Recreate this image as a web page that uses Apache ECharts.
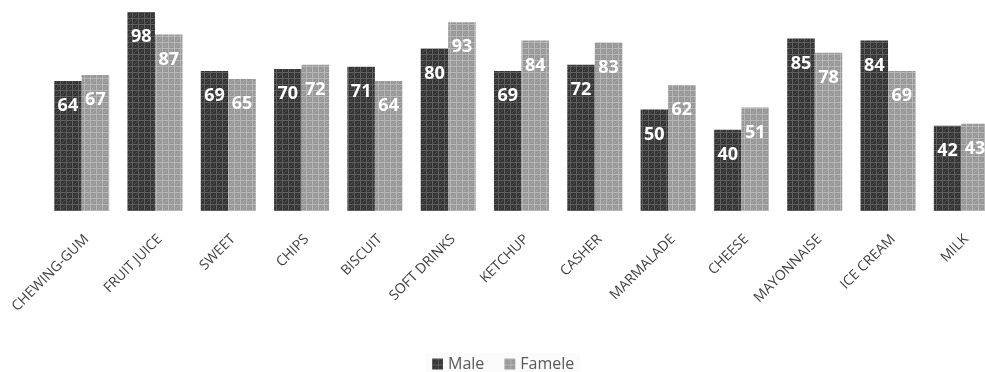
<!DOCTYPE html>
<html>
<head>
<meta charset="utf-8">
<script src="https://cdn.jsdelivr.net/npm/echarts@6/dist/echarts.min.js"></script>
<style>
  html, body { margin: 0; padding: 0; background: #ffffff; }
  #chart { width: 985px; height: 372px; }
</style>
</head>
<body>
<div id="chart"></div>
<script>
const categories = ['CHEWING-GUM', 'FRUIT JUICE', 'SWEET', 'CHIPS', 'BISCUIT', 'SOFT DRINKS', 'KETCHUP', 'CASHER', 'MARMALADE', 'CHEESE', 'MAYONNAISE', 'ICE CREAM', 'MILK'];
const maleValues = [64, 98, 69, 70, 71, 80, 69, 72, 50, 40, 85, 84, 42];
const femaleValues = [67, 87, 65, 72, 64, 93, 84, 83, 62, 51, 78, 69, 43];

// Small repeating texture tile: solid base, lighter grid lines and dots
function makeTexture(base, line, dot) {
  const c = document.createElement('canvas');
  c.width = 6; c.height = 6;
  const g = c.getContext('2d');
  g.fillStyle = base; g.fillRect(0, 0, 6, 6);
  g.fillStyle = line;
  g.fillRect(0, 0, 6, 1);
  g.fillRect(0, 0, 1, 6);
  g.fillStyle = dot;
  g.fillRect(3, 3, 1, 1);
  g.fillRect(2, 4, 1, 1);
  g.fillRect(4, 2, 1, 1);
  return { image: c, repeat: 'repeat' };
}

const maleFill = makeTexture('#343434', '#606060', '#505050');
const femaleFill = makeTexture('#979797', '#b8b8b8', '#aaaaaa');

const labelStyle = {
  show: true,
  position: 'insideTop',
  distance: 16,
  color: '#ffffff',
  fontFamily: 'Open Sans',
  fontWeight: 'bold',
  fontSize: 18
};

const chart = echarts.init(document.getElementById('chart'), null, { renderer: 'canvas' });
chart.setOption({
  animation: false,
  backgroundColor: '#ffffff',
  grid: { left: 45, width: 953, top: 8, bottom: 161, containLabel: false, outerBoundsMode: 'none' },
  legend: {
    left: 426,
    top: 353,
    itemWidth: 11,
    itemHeight: 11,
    itemGap: 20,
    icon: 'rect',
    padding: [3, 6],
    backgroundColor: 'rgba(0,0,0,0.015)',
    textStyle: { fontFamily: 'Open Sans', fontSize: 16, color: '#595959' },
    data: ['Male', 'Famele']
  },
  xAxis: {
    type: 'category',
    data: categories,
    axisLine: { show: false },
    axisTick: { show: false },
    axisLabel: {
      rotate: 45,
      interval: 0,
      margin: 21,
      verticalAlign: 'top',
      fontFamily: 'Open Sans',
      fontSize: 14,
      color: '#404040'
    }
  },
  yAxis: {
    type: 'value',
    min: 0,
    max: 100,
    show: false
  },
  series: [
    {
      name: 'Male',
      type: 'bar',
      data: maleValues,
      barWidth: 27.5,
      barGap: '0%',
      itemStyle: { color: maleFill },
      label: labelStyle
    },
    {
      name: 'Famele',
      type: 'bar',
      data: femaleValues,
      barWidth: 27.5,
      barGap: '0%',
      itemStyle: { color: femaleFill },
      label: labelStyle
    }
  ]
});
</script>
</body>
</html>
